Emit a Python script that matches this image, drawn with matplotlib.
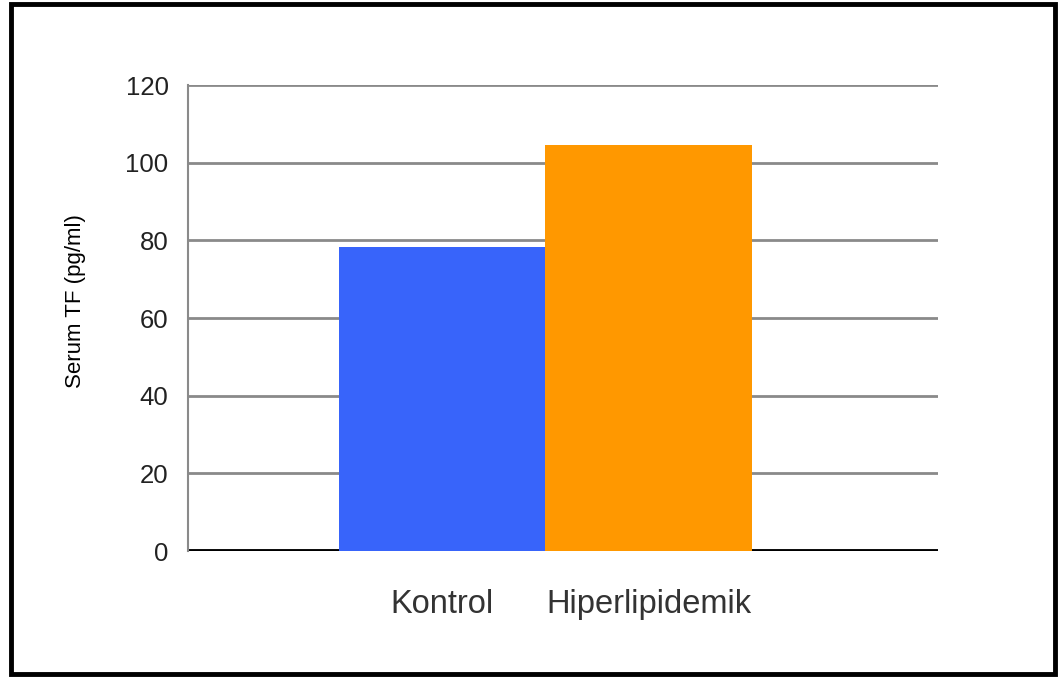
import matplotlib.pyplot as plt
from matplotlib.patches import Rectangle

plt.rcParams['font.family'] = ['Liberation Sans', 'DejaVu Sans']

groups = ['Kontrol', 'Hiperlipidemik']
serum_tf = [78.3, 104.6]
bar_colors = ['#3864fa', '#ff9800']
yticks = [0, 20, 40, 60, 80, 100, 120]

fig = plt.figure(figsize=(10.59, 6.78), dpi=100)
ax = fig.add_axes([0.1775, 0.1873, 0.7082, 0.6873])

xpos = list(range(len(groups)))
ax.bar(xpos, serum_tf, width=1.0, color=bar_colors, zorder=3)

ax.set_ylim(0, 120)
ax.set_xlim(-1.23, 2.40)
ax.set_yticks(yticks)
ax.set_yticklabels([str(t) for t in yticks], fontsize=18.5, color='#222222')
ax.set_xticks(xpos)
ax.set_xticklabels(groups, fontsize=23.5, color='#333333')
ax.tick_params(axis='both', length=0)
ax.tick_params(axis='y', pad=14)
ax.tick_params(axis='x', pad=27)

# gray grid, black zero line
for t in yticks[1:]:
    ax.axhline(t, color='#8a8a8a', lw=2, zorder=1)
ax.axhline(0, color='black', lw=3.5, zorder=2)

for s in ['top', 'right', 'bottom']:
    ax.spines[s].set_visible(False)
ax.spines['left'].set_color('#8a8a8a')
ax.spines['left'].set_linewidth(1.5)

fig.text(75 / 1059, 1 - 301 / 678, 'Serum TF (pg/ml)', rotation=90,
         ha='center', va='center', fontsize=16, color='black')

# frame around the whole figure
fig.patches.append(Rectangle((0.0104, 0.0066), 0.9858, 0.9875, transform=fig.transFigure,
                             fill=False, edgecolor='black', lw=3.5, zorder=10))

fig.savefig('out.png', dpi=100)
